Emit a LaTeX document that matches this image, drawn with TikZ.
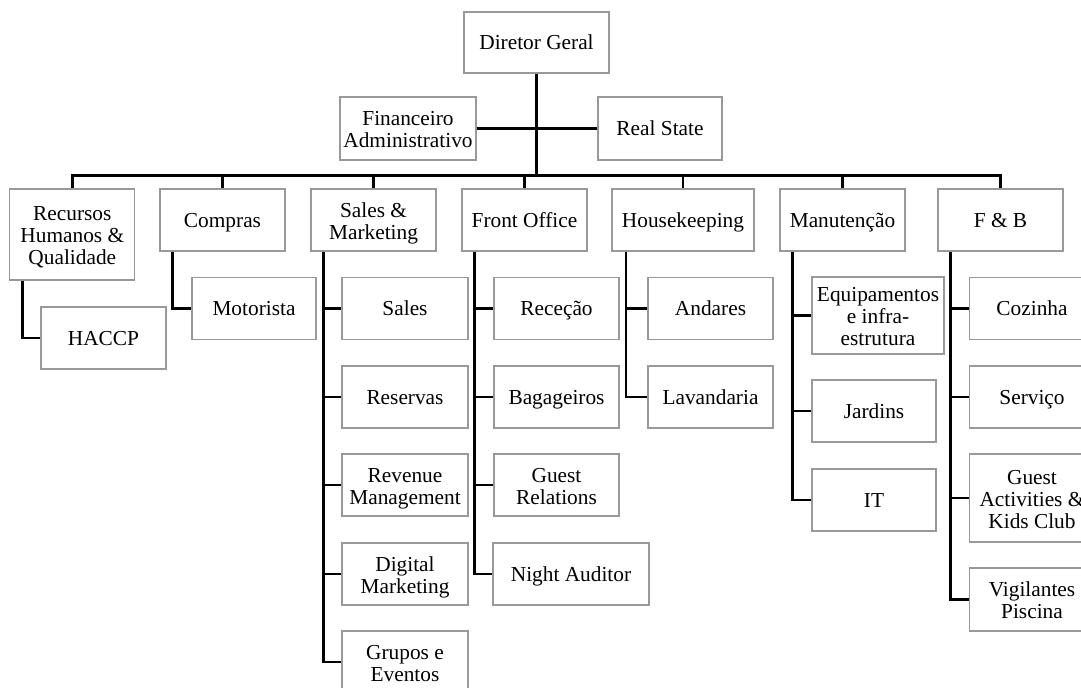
\documentclass[tikz,border=0pt]{standalone}
\usepackage{fontspec}
\setmainfont{Liberation Serif}

\begin{document}
\begin{tikzpicture}[x=0.75pt, y=-0.75pt,
	box/.style={draw=black!40, line width=0.9pt, align=center, inner sep=0pt,
		minimum width=93.75pt, minimum height=46.5pt,
		font=\fontsize{16}{16.5}\selectfont,
		execute at begin node=\rule[-4.95pt]{0pt}{21.1pt},
		execute at end node=\strut},
	wd/.style={minimum width=#1*0.75pt},
	ht/.style={minimum height=#1*0.75pt},
	link/.style={draw=black, line width=2pt}]
	\useasboundingbox (0,0) rectangle (1081,687);
	\clip (0,0) rectangle (1081,687);

	\node[box, wd=145, ht=61] (dg) at (536.5,42.5) {Diretor Geral};
	\node[box, wd=136, ht=63] (fin) at (408,128.5) {\rule{0pt}{17pt}Financeiro\\Administrativo};
	\node[box, wd=124, ht=63] (rs) at (660,128.5) {Real State};

	\node[box, ht=91] (rh) at (72.3,234.5) {\rule{0pt}{17pt}Recursos\\Humanos \&\\Qualidade};
	\node[box] (comp) at (222.5,220) {Compras};
	\node[box] (sm) at (373.5,220) {\rule{0pt}{17pt}Sales \&\\Marketing};
	\node[box] (fo) at (524.5,220) {Front Office};
	\node[box, wd=142] (hk) at (683,220) {Housekeeping};
	\node[box] (man) at (842.5,220) {Manutenção};
	\node[box] (fb) at (1000.5,220) {F \& B};

	\node[box] (haccp) at (103.5,338) {HACCP};
	\node[box, wd=124] (mot) at (254,308.5) {Motorista};

	\node[box, wd=126] (sales) at (405,308.5) {Sales};
	\node[box, wd=126] (res) at (405,397) {Reservas};
	\node[box, wd=126] (rev) at (405,485) {\rule{0pt}{17pt}Revenue\\Management};
	\node[box, wd=126] (dig) at (405,574) {\rule{0pt}{17pt}Digital\\Marketing};
	\node[box, wd=126] (grp) at (405,662) {\rule{0pt}{17pt}Grupos e\\Eventos};

	\node[box] (rec) at (556.5,308.5) {Receção};
	\node[box] (bag) at (556.5,397) {Bagageiros};
	\node[box] (gr) at (556.5,485) {\rule{0pt}{17pt}Guest\\Relations};
	\node[box, wd=156] (na) at (571,574) {Night Auditor};

	\node[box] (and) at (710.5,308.5) {Andares};
	\node[box] (lav) at (710.5,397) {Lavandaria};

	\node[box, wd=132, ht=77] (eq) at (878,315.5) {\rule{0pt}{17pt}Equipamentos\\e infra-\\estrutura};
	\node[box, wd=124] (jar) at (874,411) {Jardins};
	\node[box, wd=124] (it) at (874,500) {IT};

	\node[box] (coz) at (1032,308.5) {Cozinha};
	\node[box] (serv) at (1032,397) {Serviço};
	\node[box, ht=88] (ga) at (1032,498) {\rule{0pt}{17pt}Guest\\Activities \&\\Kids Club};
	\node[box, ht=63] (vig) at (1032,599.5) {\rule{0pt}{17pt}Vigilantes\\Piscina};

	\coordinate (bus) at (536.5,175.6);
	\path[link]
	(dg) -- (bus)
	(fin) -- (rs)
	(rh.north) |- (bus) -| (fb.north)
	(comp.north) -- (comp.north |- bus)
	(sm.north) -- (sm.north |- bus)
	(fo.north) -- (fo.north |- bus)
	(hk.north) -- (hk.north |- bus)
	(man.north) -- (man.north |- bus);

	\path[link]
	([xshift=10pt]rh.south west) |- (haccp.west)
	([xshift=10pt]comp.south west) |- (mot.west)
	([xshift=10pt]sm.south west) |- (sales.west)
	([xshift=10pt]sm.south west) |- (res.west)
	([xshift=10pt]sm.south west) |- (rev.west)
	([xshift=10pt]sm.south west) |- (dig.west)
	([xshift=10pt]sm.south west) |- (grp.west)
	([xshift=10pt]fo.south west) |- (rec.west)
	([xshift=10pt]fo.south west) |- (bag.west)
	([xshift=10pt]fo.south west) |- (gr.west)
	([xshift=10pt]fo.south west) |- (na.west)
	([xshift=11pt]hk.south west) |- (and.west)
	([xshift=11pt]hk.south west) |- (lav.west)
	([xshift=10pt]man.south west) |- (eq.west)
	([xshift=10pt]man.south west) |- (jar.west)
	([xshift=10pt]man.south west) |- (it.west)
	([xshift=10pt]fb.south west) |- (coz.west)
	([xshift=10pt]fb.south west) |- (serv.west)
	([xshift=10pt]fb.south west) |- (ga.west)
	([xshift=10pt]fb.south west) |- (vig.west);
\end{tikzpicture}
\end{document}
